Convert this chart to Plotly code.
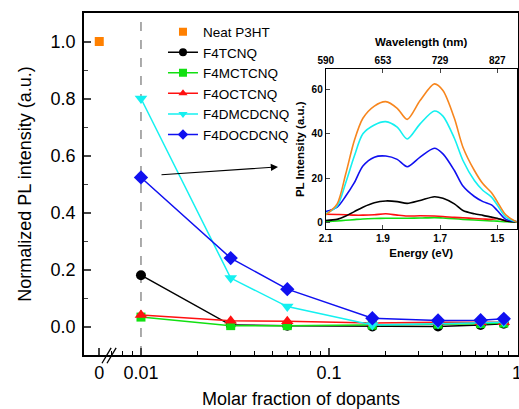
import plotly.graph_objects as go

# ---------------- main panel data ----------------
neat_x = [0.006]
neat_y = [1.0]
molar_x = [0.01, 0.03, 0.06, 0.17, 0.38, 0.64, 0.85]
series_names = ["F4TCNQ", "F4MCTCNQ", "F4OCTCNQ", "F4DMCDCNQ", "F4DOCDCNQ"]
f4tcnq = [0.18, 0.005, 0.003, 0.0, 0.0, 0.005, 0.01]
f4mctcnq = [0.033, 0.003, 0.003, 0.005, 0.008, 0.01, 0.012]
f4octcnq = [0.04, 0.02, 0.018, 0.012, 0.015, 0.015, 0.015]
f4dmcdcnq = [0.80, 0.17, 0.07, 0.005, 0.01, 0.012, 0.015]
f4docdcnq = [0.523, 0.24, 0.131, 0.029, 0.021, 0.022, 0.027]
x_tickvals = [0.006, 0.01, 0.1, 1]
x_ticktext = ["0", "0.01", "0.1", "1"]
x_minor = [0.007, 0.008, 0.009, 0.02, 0.03, 0.04, 0.05, 0.06, 0.07, 0.08, 0.09,
           0.2, 0.3, 0.4, 0.5, 0.6, 0.7, 0.8, 0.9]

# ---------------- inset data ----------------
energy = [2.10, 2.06, 2.03, 2.00, 1.97, 1.93, 1.89, 1.85, 1.815, 1.77,
          1.72, 1.69, 1.65, 1.62, 1.58, 1.55, 1.52, 1.50, 1.47, 1.43]
pl_neat = [3.5, 8.5, 22, 37, 47, 52.5, 54.5, 51.5, 46.5, 55,
           62.5, 59.5, 47, 34, 23.5, 17.5, 13.5, 9.5, 3.5, 0.2]
pl_dmcd = [4, 7.5, 18, 30, 40, 44, 45.5, 43, 37.7, 44.5,
           50.3, 48, 38, 28, 19, 14.5, 11.5, 8, 2.5, 0.3]
pl_docd = [5, 7, 12, 18, 25.5, 29.5, 30, 28.5, 25.2, 29.5,
           33.5, 31, 23.5, 16.5, 11.8, 9.5, 8, 5.5, 1.5, 0.5]
pl_tcnq = [1, 1.5, 3, 5, 7, 9, 9.8, 9.5, 8.7, 10,
           11.7, 11, 8.5, 5.5, 4, 3.3, 2.5, 2, 0.8, 0.3]
pl_octcnq = [3.8, 3.7, 3.6, 3.4, 3.4, 3.6, 4, 3.4, 3, 3.1,
             3, 2.8, 2.4, 2.2, 1.9, 1.7, 1.5, 1.8, 0.8, 0.4]
pl_mctcnq = [0.5, 0.8, 1.1, 1.4, 1.7, 1.9, 2, 2, 2, 2.1,
             2.3, 2.1, 1.8, 1.5, 1.2, 1, 0.8, 0.7, 0.4, 0.3]
e_ticks = [2.1, 1.9, 1.7, 1.5]
wl_labels = ["590", "653", "729", "827"]

C_ORANGE = "#F7861E"
C_BLACK = "#000000"
C_GREEN = "#11E011"
C_RED = "#FF1010"
C_CYAN = "#14F0F0"
C_BLUE = "#1010F0"

FONT = "Liberation Sans, Arial, sans-serif"

fig = go.Figure()

# dashed guide at 0.01
fig.add_trace(go.Scatter(x=[0.01, 0.01], y=[-0.1, 1.1], mode="lines",
                         line=dict(color="#909090", width=1.5, dash="dash"),
                         showlegend=False, hoverinfo="skip"))

fig.add_trace(go.Scatter(x=neat_x, y=neat_y, mode="markers", name="Neat P3HT",
                         showlegend=False,
                         marker=dict(symbol="square", size=9, color="#FF8000")))

styles = [
    (f4tcnq, C_BLACK, "circle", 10),
    (f4mctcnq, C_GREEN, "square", 9),
    (f4octcnq, C_RED, "triangle-up", 11),
    (f4dmcdcnq, C_CYAN, "triangle-down", 11),
    (f4docdcnq, C_BLUE, "diamond", 11),
]
for name, (vals, col, sym, sz) in zip(series_names, styles):
    fig.add_trace(go.Scatter(x=molar_x, y=vals, mode="lines+markers", name=name,
                             showlegend=False,
                             line=dict(color=col, width=1.5),
                             marker=dict(symbol=sym, size=sz, color=col)))

# legend entries (compact symbols)
fig.add_trace(go.Scatter(x=[None], y=[None], mode="markers", name="Neat P3HT",
                         marker=dict(symbol="square", size=8, color="#FF8000")))
for name, (vals, col, sym, sz) in zip(series_names, styles):
    fig.add_trace(go.Scatter(x=[None], y=[None], mode="lines+markers", name=name,
                             line=dict(color=col, width=1.5),
                             marker=dict(symbol=sym, size=8, color=col)))

# inset spectra
for vals, col in [(pl_mctcnq, C_GREEN), (pl_octcnq, C_RED), (pl_tcnq, C_BLACK),
                  (pl_docd, C_BLUE), (pl_dmcd, C_CYAN), (pl_neat, C_ORANGE)]:
    fig.add_trace(go.Scatter(x=energy, y=vals, mode="lines", xaxis="x2", yaxis="y2",
                             line=dict(color=col, width=1.6, shape="spline", smoothing=0.8),
                             showlegend=False, hoverinfo="skip"))
# invisible traces to activate helper axes
fig.add_trace(go.Scatter(x=[e_ticks[0]], y=[None], xaxis="x3", yaxis="y2",
                         showlegend=False, hoverinfo="skip", mode="lines"))
fig.add_trace(go.Scatter(x=[x_minor[0]], y=[None], xaxis="x4", yaxis="y",
                         showlegend=False, hoverinfo="skip", mode="lines"))

fig.update_layout(
    width=519, height=409,
    margin=dict(l=84, r=1, t=13, b=54, autoexpand=False),
    paper_bgcolor="white", plot_bgcolor="white",
    font=dict(family=FONT, color="black", size=18),
    legend=dict(x=0.182, y=0.99, xanchor="left", yanchor="top",
                bgcolor="rgba(0,0,0,0)", font=dict(size=13.5), tracegroupgap=0),
    xaxis=dict(type="log", range=[-2.303, 0.005], domain=[0, 1], automargin=False,
               tickvals=x_tickvals, ticktext=x_ticktext, ticklabeloverflow="allow",
               ticks="inside", ticklen=7, tickwidth=1.5,
               showline=True, linewidth=1.8, linecolor="black", mirror=True,
               showgrid=False, zeroline=False, tickfont=dict(size=18),
               title=dict(text="Molar fraction of dopants", font=dict(size=18), standoff=18)),
    xaxis4=dict(type="log", range=[-2.303, 0.005], overlaying="x", anchor="y", side="bottom",
                automargin=False, tickvals=x_minor, showticklabels=False,
                ticks="inside", ticklen=4, tickwidth=1.2, tickcolor="black",
                showline=False, showgrid=False, zeroline=False),
    yaxis=dict(range=[-0.1, 1.1], domain=[0, 1], automargin=False,
               tickvals=[0, 0.2, 0.4, 0.6, 0.8, 1.0],
               ticktext=["0.0", "0.2", "0.4", "0.6", "0.8", "1.0"],
               ticks="inside", ticklen=7, tickwidth=1.5,
               showline=True, linewidth=1.8, linecolor="black", mirror=True,
               showgrid=False, zeroline=False, tickfont=dict(size=18),
               minor=dict(dtick=0.1, tick0=0, ticks="inside", ticklen=4, tickwidth=1.2),
               ticklabelstandoff=3,
               title=dict(text="Normalized PL intensity (a.u.)", font=dict(size=18), standoff=14)),
    xaxis2=dict(domain=[0.557, 0.997], anchor="y2", range=[2.1, 1.432],
                tickvals=e_ticks, ticktext=["2.1", "1.9", "1.7", "1.5"],
                ticks="inside", ticklen=4, tickwidth=1,
                showline=True, linewidth=1, linecolor="black",
                showgrid=False, zeroline=False,
                tickfont=dict(size=10, weight="bold"),
                title=dict(text="Energy (eV)", font=dict(size=11.5, weight="bold"), standoff=5)),
    xaxis3=dict(overlaying="x2", anchor="y2", side="top", range=[2.1, 1.432],
                tickvals=e_ticks, ticktext=wl_labels,
                ticks="inside", ticklen=4, tickwidth=1,
                showline=True, linewidth=1, linecolor="black",
                showgrid=False, zeroline=False,
                tickfont=dict(size=10, weight="bold"),
                title=dict(text="Wavelength (nm)", font=dict(size=11.5, weight="bold"), standoff=6)),
    yaxis2=dict(domain=[0.368, 0.835], anchor="x2", range=[-2.9, 69],
                tickvals=[0, 20, 40, 60],
                ticks="inside", ticklen=4, tickwidth=1,
                showline=True, linewidth=1, linecolor="black", mirror=True,
                showgrid=False, zeroline=False,
                tickfont=dict(size=10, weight="bold"),
                title=dict(text="PL Intensity (a.u.)", font=dict(size=11.5, weight="bold"), standoff=4)),
)

# axis break marks
for x0 in (0.0415, 0.053):
    fig.add_shape(type="line", xref="paper", yref="paper",
                  x0=x0, y0=-0.024, x1=x0 + 0.021, y1=0.021,
                  line=dict(color="black", width=1.3))

# arrow pointing to inset
fig.add_annotation(xref="paper", yref="paper", x=0.447, y=0.55, ax=-118, ay=8,
                   text="", showarrow=True, arrowhead=2, arrowsize=1.3,
                   arrowwidth=1.1, arrowcolor="black")

fig.write_html("out.html")
